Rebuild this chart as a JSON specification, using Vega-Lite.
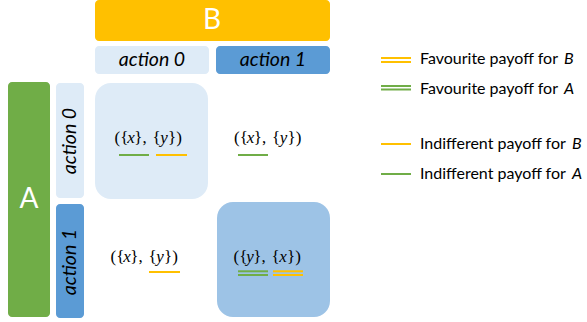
{
  "$schema": "https://vega.github.io/schema/vega-lite/v6.json",
  "width": 587,
  "height": 322,
  "autosize": {"type": "fit", "contains": "padding"},
  "padding": 0,
  "background": "white",
  "config": {"view": {"stroke": null}},
  "datasets": {
    "boxes": [
      {"name": "B", "kind": "B", "x": 95, "x2": 330, "y": 0, "y2": 41},
      {"name": "A", "kind": "A", "x": 8, "x2": 50, "y": 82, "y2": 317},
      {"name": "B action 0", "kind": "action 0", "x": 95, "x2": 209, "y": 46, "y2": 74},
      {"name": "B action 1", "kind": "action 1", "x": 216, "x2": 330, "y": 46, "y2": 74},
      {"name": "A action 0", "kind": "action 0", "x": 56, "x2": 84, "y": 83, "y2": 198},
      {"name": "A action 1", "kind": "action 1", "x": 56, "x2": 84, "y": 204, "y2": 318}
    ],
    "cells": [
      {"name": "(0,0)", "kind": "cell 0", "x": 95, "x2": 208, "y": 83, "y2": 199},
      {"name": "(1,1)", "kind": "cell 1", "x": 217, "x2": 330, "y": 202, "y2": 317}
    ],
    "players": [
      {"text": "B", "x": 212, "y": 21},
      {"text": "A", "x": 29, "y": 200}
    ],
    "hlabels": [
      {"text": "action 0", "x": 152, "y": 60},
      {"text": "action 1", "x": 273, "y": 60}
    ],
    "vlabels": [
      {"text": "action 0", "x": 70, "y": 141},
      {"text": "action 1", "x": 70, "y": 262}
    ],
    "payoffs": [
      {"cell": "0,0", "part": "sym", "text": "({", "x": 121.5, "y": 138},
      {"cell": "0,0", "part": "var", "text": "x", "x": 131, "y": 138},
      {"cell": "0,0", "part": "sym", "text": "},", "x": 140.5, "y": 138},
      {"cell": "0,0", "part": "sym", "text": "{", "x": 156.5, "y": 138},
      {"cell": "0,0", "part": "var", "text": "y", "x": 164, "y": 138},
      {"cell": "0,0", "part": "sym", "text": "})", "x": 175, "y": 138},
      {"cell": "0,1", "part": "sym", "text": "({", "x": 241, "y": 138},
      {"cell": "0,1", "part": "var", "text": "x", "x": 250.5, "y": 138},
      {"cell": "0,1", "part": "sym", "text": "},", "x": 260, "y": 138},
      {"cell": "0,1", "part": "sym", "text": "{", "x": 276, "y": 138},
      {"cell": "0,1", "part": "var", "text": "y", "x": 283.5, "y": 138},
      {"cell": "0,1", "part": "sym", "text": "})", "x": 294.5, "y": 138},
      {"cell": "1,0", "part": "sym", "text": "({", "x": 117.5, "y": 257},
      {"cell": "1,0", "part": "var", "text": "x", "x": 127, "y": 257},
      {"cell": "1,0", "part": "sym", "text": "},", "x": 136.5, "y": 257},
      {"cell": "1,0", "part": "sym", "text": "{", "x": 152.5, "y": 257},
      {"cell": "1,0", "part": "var", "text": "y", "x": 160, "y": 257},
      {"cell": "1,0", "part": "sym", "text": "})", "x": 171, "y": 257},
      {"cell": "1,1", "part": "sym", "text": "({", "x": 240.5, "y": 257},
      {"cell": "1,1", "part": "var", "text": "y", "x": 250, "y": 257},
      {"cell": "1,1", "part": "sym", "text": "},", "x": 259.5, "y": 257},
      {"cell": "1,1", "part": "sym", "text": "{", "x": 275.5, "y": 257},
      {"cell": "1,1", "part": "var", "text": "x", "x": 283, "y": 257},
      {"cell": "1,1", "part": "sym", "text": "})", "x": 294, "y": 257}
    ],
    "lines": [
      {"player": "A", "x": 119, "x2": 149, "y": 155},
      {"player": "B", "x": 156, "x2": 187, "y": 155},
      {"player": "A", "x": 238, "x2": 268, "y": 155},
      {"player": "B", "x": 149, "x2": 180, "y": 272},
      {"player": "A", "x": 238, "x2": 268, "y": 271.3},
      {"player": "A", "x": 238, "x2": 268, "y": 275},
      {"player": "B", "x": 273, "x2": 303, "y": 271.3},
      {"player": "B", "x": 273, "x2": 303, "y": 275},
      {"player": "B", "x": 381, "x2": 411, "y": 58},
      {"player": "B", "x": 381, "x2": 411, "y": 62},
      {"player": "A", "x": 381, "x2": 411, "y": 86},
      {"player": "A", "x": 381, "x2": 411, "y": 89.5},
      {"player": "B", "x": 381, "x2": 411, "y": 144},
      {"player": "A", "x": 381, "x2": 411, "y": 174}
    ],
    "legend": [
      {"text": "Favourite payoff for ", "x": 420, "y": 59},
      {"text": "Favourite payoff for ", "x": 420, "y": 89},
      {"text": "Indifferent payoff for ", "x": 420, "y": 144},
      {"text": "Indifferent payoff for ", "x": 420, "y": 174}
    ],
    "legendPlayers": [
      {"text": "B", "x": 564, "y": 59},
      {"text": "A", "x": 564, "y": 89},
      {"text": "B", "x": 572, "y": 144},
      {"text": "A", "x": 572, "y": 174}
    ]
  },
  "layer": [
    {
      "data": {"name": "boxes"},
      "mark": {"type": "rect", "cornerRadius": 4},
      "encoding": {
        "x": {"field": "x", "type": "quantitative", "scale": {"domain": [0, 587]}, "axis": null},
        "x2": {"field": "x2"},
        "y": {"field": "y", "type": "quantitative", "scale": {"domain": [0, 322], "reverse": true}, "axis": null},
        "y2": {"field": "y2"},
        "color": {
          "field": "kind", "type": "nominal", "legend": null,
          "scale": {"domain": ["B", "A", "action 0", "action 1", "cell 0", "cell 1"],
                    "range": ["#FFC000", "#70AD47", "#DEEBF7", "#5B9BD5", "#DEEBF7", "#9DC3E6"]}
        }
      }
    },
    {
      "data": {"name": "cells"},
      "mark": {"type": "rect", "cornerRadius": 16},
      "encoding": {
        "x": {"field": "x", "type": "quantitative", "scale": {"domain": [0, 587]}, "axis": null},
        "x2": {"field": "x2"},
        "y": {"field": "y", "type": "quantitative", "scale": {"domain": [0, 322], "reverse": true}, "axis": null},
        "y2": {"field": "y2"},
        "color": {"field": "kind", "type": "nominal", "legend": null}
      }
    },
    {
      "data": {"name": "players"},
      "mark": {"type": "text", "font": "Lato", "fontSize": 28, "color": "white", "baseline": "middle", "align": "center"},
      "encoding": {
        "x": {"field": "x", "type": "quantitative", "scale": {"domain": [0, 587]}, "axis": null},
        "y": {"field": "y", "type": "quantitative", "scale": {"domain": [0, 322], "reverse": true}, "axis": null},
        "text": {"field": "text"}
      }
    },
    {
      "data": {"name": "hlabels"},
      "mark": {"type": "text", "font": "Lato", "fontSize": 19.5, "fontStyle": "italic", "color": "black", "baseline": "middle", "align": "center"},
      "encoding": {
        "x": {"field": "x", "type": "quantitative", "scale": {"domain": [0, 587]}, "axis": null},
        "y": {"field": "y", "type": "quantitative", "scale": {"domain": [0, 322], "reverse": true}, "axis": null},
        "text": {"field": "text"}
      }
    },
    {
      "data": {"name": "vlabels"},
      "mark": {"type": "text", "font": "Lato", "fontSize": 19.5, "fontStyle": "italic", "color": "black", "baseline": "middle", "align": "center", "angle": 270},
      "encoding": {
        "x": {"field": "x", "type": "quantitative", "scale": {"domain": [0, 587]}, "axis": null},
        "y": {"field": "y", "type": "quantitative", "scale": {"domain": [0, 322], "reverse": true}, "axis": null},
        "text": {"field": "text"}
      }
    },
    {
      "data": {"name": "payoffs"},
      "transform": [{"filter": "datum.part === 'sym'"}],
      "mark": {"type": "text", "font": "Liberation Serif", "fontSize": 17, "color": "black", "baseline": "middle", "align": "center"},
      "encoding": {
        "x": {"field": "x", "type": "quantitative", "scale": {"domain": [0, 587]}, "axis": null},
        "y": {"field": "y", "type": "quantitative", "scale": {"domain": [0, 322], "reverse": true}, "axis": null},
        "text": {"field": "text"}
      }
    },
    {
      "data": {"name": "payoffs"},
      "transform": [{"filter": "datum.part === 'var'"}],
      "mark": {"type": "text", "font": "Liberation Serif", "fontSize": 17, "fontStyle": "italic", "color": "black", "baseline": "middle", "align": "center"},
      "encoding": {
        "x": {"field": "x", "type": "quantitative", "scale": {"domain": [0, 587]}, "axis": null},
        "y": {"field": "y", "type": "quantitative", "scale": {"domain": [0, 322], "reverse": true}, "axis": null},
        "text": {"field": "text"}
      }
    },
    {
      "data": {"name": "lines"},
      "mark": {"type": "rule", "strokeWidth": 2},
      "encoding": {
        "x": {"field": "x", "type": "quantitative", "scale": {"domain": [0, 587]}, "axis": null},
        "x2": {"field": "x2"},
        "y": {"field": "y", "type": "quantitative", "scale": {"domain": [0, 322], "reverse": true}, "axis": null},
        "stroke": {"field": "player", "type": "nominal", "legend": null,
                   "scale": {"domain": ["B", "A"], "range": ["#FFC000", "#70AD47"]}}
      }
    },
    {
      "data": {"name": "legend"},
      "mark": {"type": "text", "font": "Lato", "fontSize": 16, "color": "black", "baseline": "middle", "align": "left"},
      "encoding": {
        "x": {"field": "x", "type": "quantitative", "scale": {"domain": [0, 587]}, "axis": null},
        "y": {"field": "y", "type": "quantitative", "scale": {"domain": [0, 322], "reverse": true}, "axis": null},
        "text": {"field": "text"}
      }
    },
    {
      "data": {"name": "legendPlayers"},
      "mark": {"type": "text", "font": "Lato", "fontSize": 16, "fontStyle": "italic", "color": "black", "baseline": "middle", "align": "left"},
      "encoding": {
        "x": {"field": "x", "type": "quantitative", "scale": {"domain": [0, 587]}, "axis": null},
        "y": {"field": "y", "type": "quantitative", "scale": {"domain": [0, 322], "reverse": true}, "axis": null},
        "text": {"field": "text"}
      }
    }
  ]
}
